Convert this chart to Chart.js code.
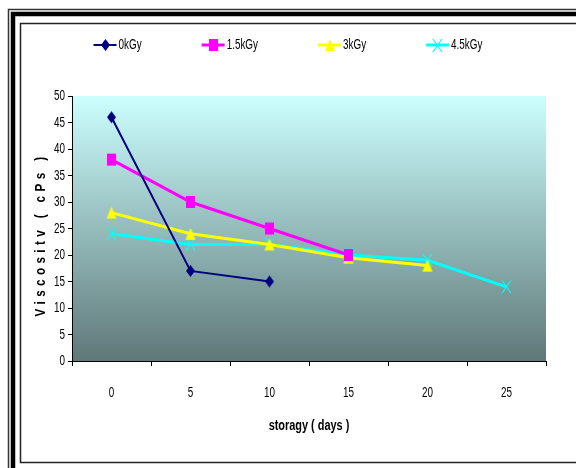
<!DOCTYPE html>
<html>
<head>
<meta charset="utf-8">
<script src="https://cdn.jsdelivr.net/npm/chart.js@4.4.0/dist/chart.umd.min.js"></script>
<style>
  html, body { margin: 0; padding: 0; background: #fff; }
</style>
</head>
<body>
<canvas id="myChart" width="576" height="468"></canvas>
<script>
// data
const days = ["0", "5", "10", "15", "20", "25"];
const dose0 = [46, 17, 15];
const dose15 = [38, 30, 25, 20];
const dose3 = [28, 24, 22, 19.5, 18];
const dose45 = [24, 22, 22, 20, 19, 14];
const yTicks = [0, 5, 10, 15, 20, 25, 30, 35, 40, 45, 50];

const font = '"Liberation Sans", Arial, sans-serif';

// the original uses a tall, narrow face: squeeze all text horizontally
const squeeze = { normal: 0.66, bold: 0.78 };
function condense(ctx) {
  const fill = ctx.fillText;
  ctx.fillText = function (text, x, y, maxWidth) {
    const k = /bold|700/.test(this.font) ? squeeze.bold : squeeze.normal;
    this.save();
    this.translate(x, y);
    this.scale(k, 1);
    if (maxWidth === undefined || maxWidth === null) {
      fill.call(this, text, 0, 0);
    } else {
      fill.call(this, text, 0, 0, maxWidth / k);
    }
    this.restore();
  };
}

// markers, a little taller than wide like in the original
function marker(shape, color, w, h) {
  const c = document.createElement("canvas");
  c.width = w + 2;
  c.height = h + 2;
  const g = c.getContext("2d");
  const cx = c.width / 2;
  const cy = c.height / 2;
  g.fillStyle = color;
  g.strokeStyle = color;
  g.lineWidth = 1.2;
  g.beginPath();
  if (shape === "diamond") {
    g.moveTo(cx, cy - h / 2);
    g.lineTo(cx + w / 2, cy);
    g.lineTo(cx, cy + h / 2);
    g.lineTo(cx - w / 2, cy);
    g.closePath();
    g.fill();
  } else if (shape === "square") {
    g.rect(cx - w / 2, cy - h / 2, w, h);
    g.fill();
  } else if (shape === "triangle") {
    g.moveTo(cx, cy - h / 2);
    g.lineTo(cx + w / 2, cy + h / 2);
    g.lineTo(cx - w / 2, cy + h / 2);
    g.closePath();
    g.fill();
  } else {
    g.moveTo(cx - w / 2, cy - h / 2);
    g.lineTo(cx + w / 2, cy + h / 2);
    g.moveTo(cx + w / 2, cy - h / 2);
    g.lineTo(cx - w / 2, cy + h / 2);
    g.stroke();
  }
  return c;
}

// white page + double frame + gradient plot background
const frame = {
  id: "frame",
  beforeDraw(chart) {
    const ctx = chart.ctx;
    const area = chart.chartArea;
    ctx.save();
    ctx.fillStyle = "#fff";
    ctx.fillRect(0, 0, chart.width, chart.height);

    ctx.strokeStyle = "#333";
    ctx.lineWidth = 1.5;
    ctx.strokeRect(8.5, 9.5, chart.width + 20, chart.height + 20);
    ctx.strokeStyle = "#000";
    ctx.lineWidth = 4.5;
    ctx.strokeRect(13, 14, chart.width + 20, chart.height + 20);
    ctx.strokeStyle = "#222";
    ctx.lineWidth = 1.5;
    ctx.strokeRect(20.5, 23.5, chart.width + 20, 439);

    let gradient = ctx.createLinearGradient(0, area.top, 0, area.bottom);
    gradient.addColorStop(0, "#ccffff");
    gradient.addColorStop(1, "#5f7878");
    ctx.fillStyle = gradient;
    ctx.fillRect(area.left, area.top, area.right - area.left, area.bottom - area.top);
    ctx.restore();
  },
};

// y title with wide letter spacing
const yTitle = {
  id: "yTitle",
  afterDraw(chart) {
    const ctx = chart.ctx;
    const area = chart.chartArea;
    ctx.save();
    ctx.translate(41, (area.top + area.bottom) / 2 + 6);
    ctx.rotate(-Math.PI / 2);
    ctx.font = "bold 15px " + font;
    ctx.letterSpacing = "5.6px";
    ctx.fillStyle = "#000";
    ctx.textAlign = "center";
    ctx.textBaseline = "middle";
    ctx.fillText("Viscositv ( cPs )", 0, 0);
    ctx.restore();
  },
};

// legend drawn as line + marker, like the original
const lineLegend = {
  id: "lineLegend",
  afterDraw(chart) {
    const ctx = chart.ctx;
    const gap = 60;
    const lineLen = 23;
    ctx.save();
    ctx.font = "15px " + font;
    const sets = chart.data.datasets;
    const widths = sets.map((ds) => lineLen + 2 + ctx.measureText(ds.label).width * squeeze.normal);
    const total = widths.reduce((a, b) => a + b, 0) + gap * (sets.length - 1);
    let x = (chart.width - total) / 2;
    const y = 45;
    sets.forEach((ds, i) => {
      ctx.strokeStyle = ds.borderColor;
      ctx.lineWidth = ds.borderWidth;
      ctx.beginPath();
      ctx.moveTo(x, y);
      ctx.lineTo(x + lineLen, y);
      ctx.stroke();
      const img = ds.pointStyle;
      ctx.drawImage(img, Math.round(x + lineLen / 2 - img.width / 2), Math.round(y - img.height / 2));
      ctx.fillStyle = "#000";
      ctx.textBaseline = "middle";
      ctx.textAlign = "left";
      ctx.fillText(ds.label, x + lineLen + 2, y);
      x += widths[i] + gap;
    });
    ctx.restore();
  },
};

function series(label, data, color, shape, w, h, width) {
  return {
    label: label,
    data: data,
    borderColor: color,
    backgroundColor: color,
    borderWidth: width,
    pointStyle: marker(shape, color, w, h),
    pointRadius: 6,
    pointHoverRadius: 6,
    tension: 0,
  };
}

const ctx = document.getElementById("myChart").getContext("2d");
condense(ctx);

new Chart(ctx, {
  type: "line",
  data: {
    labels: days,
    datasets: [
      series("0kGy", dose0, "#000080", "diamond", 9, 12, 2),
      series("1.5kGy", dose15, "#ff00ff", "square", 9, 12, 3),
      series("3kGy", dose3, "#ffff00", "triangle", 10, 12, 3),
      series("4.5kGy", dose45, "#00ffff", "cross", 9, 13, 3),
    ],
  },
  options: {
    responsive: false,
    animation: false,
    layout: {
      padding: { top: 96, left: 20, right: 30, bottom: 0 },
    },
    plugins: {
      legend: { display: false },
      tooltip: { enabled: false },
    },
    scales: {
      x: {
        type: "category",
        offset: true,
        grid: {
          offset: true,
          drawOnChartArea: false,
          drawTicks: true,
          tickLength: 5,
          color: "#000",
        },
        border: { color: "#000", width: 1 },
        ticks: {
          color: "#000",
          padding: 18,
          font: { family: font, size: 15 },
          maxRotation: 0,
        },
        title: {
          display: true,
          text: "storagy ( days )",
          color: "#000",
          font: { family: font, size: 14, weight: "bold" },
          padding: { top: 0, bottom: 33 },
        },
        afterFit(scale) {
          scale.height = 107;
        },
      },
      y: {
        min: 0,
        max: 50,
        afterBuildTicks(scale) {
          scale.ticks = yTicks.map((v) => ({ value: v }));
        },
        grid: {
          drawOnChartArea: false,
          drawTicks: true,
          tickLength: 4,
          color: "#000",
        },
        border: { color: "#000", width: 1 },
        ticks: {
          color: "#000",
          padding: 3,
          font: { family: font, size: 15 },
        },
        afterFit(scale) {
          scale.width = 52;
        },
      },
    },
  },
  plugins: [frame, yTitle, lineLegend],
});
</script>
</body>
</html>
